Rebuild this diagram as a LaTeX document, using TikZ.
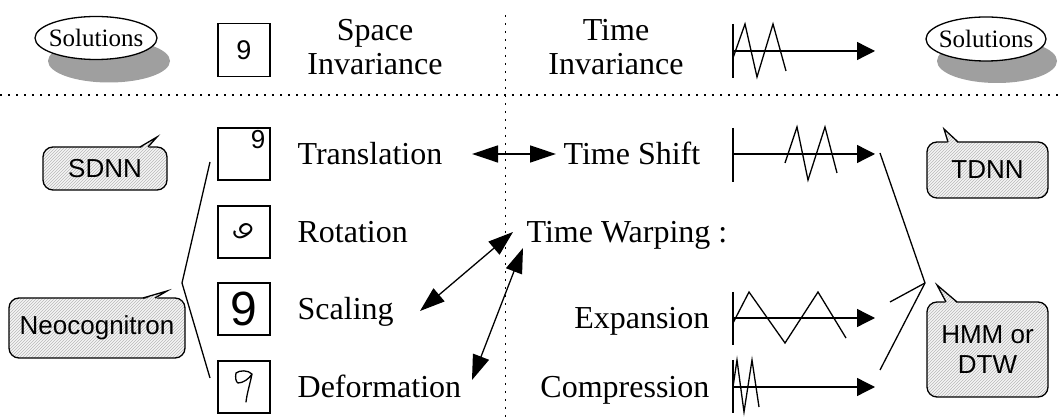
\documentclass[tikz,border=0pt]{standalone}
\usepackage{fontspec}
\setmainfont{Liberation Serif}
\newfontfamily\sansf{Liberation Sans}
\usetikzlibrary{arrows.meta,patterns,shapes.geometric}
\begin{document}
\begin{tikzpicture}[x=1pt,y=-1pt,line width=1.3pt,
  lbl/.style={font=\fontsize{32}{32}\selectfont,inner sep=0pt},
  soltext/.style={inner sep=0pt,font=\fontsize{25}{25}\selectfont},
  digbox/.style={draw,minimum width=52pt,minimum height=52pt,inner sep=0pt,line width=1.2pt},
  hatch/.style={preaction={fill=gray!8},pattern=north east lines,pattern color=gray!55},
  callbox/.style={hatch,draw,rounded corners=10pt,inner sep=0pt,font=\sansf\fontsize{26}{30}\selectfont,align=center},
  dots/.style={line width=1.7pt,dash pattern=on 1.7pt off 6.3pt},
  sigtip/.style={-{Triangle[length=18pt,width=18pt]}},
  dbltip/.style={{Triangle[length=26pt,width=17pt]}-{Triangle[length=26pt,width=17pt]}},
  wrptip/.style={{Triangle[length=25pt,width=17pt]}-{Triangle[length=25pt,width=17pt]}},
  sig/.style={line width=1.3pt,line join=miter}
]
\useasboundingbox (0,0) rectangle (1058,419);

% dotted separators
\draw[dots] (0,95) -- (1058,95);
\draw[dots] (505.5,15) -- (505.5,419);

% top row
\fill[gray!75] (109,61) ellipse [x radius=61pt,y radius=21.5pt];
\draw[fill=white] (96,38) ellipse [x radius=61pt,y radius=21.5pt];
\node[soltext] (solL) at (96,38) {Solutions};
\fill[gray!75] (997,61) ellipse [x radius=60pt,y radius=22pt];
\draw[fill=white] (986,39) ellipse [x radius=60pt,y radius=22pt];
\node[soltext] (solR) at (986,39) {Solutions};
\node[digbox,minimum height=53pt] (top9) at (244,50) {\sansf\fontsize{27}{27}\selectfont 9};
\node[lbl,anchor=base] (space) at (375,41) {Space};
\node[lbl,anchor=base] (spinv) at (375,75) {Invariance};
\node[lbl,anchor=base] (time) at (616,41) {Time};
\node[lbl,anchor=base] (tminv) at (616,75) {Invariance};
\draw[sig] (733,24) -- (733,78);
\draw[sig] (733,58) -- (745,24) -- (757,77) -- (773,24) -- (786,71);
\draw[sig,sigtip] (733,51) -- (875,51);

% digit boxes
\node[digbox] (b1) at (244,154) {};
\node[font=\sansf\fontsize{26}{26}\selectfont,inner sep=0pt] (d1) at (258,140) {9};
\node[digbox] (b2) at (244,232) {};
\node[font=\sansf\itshape\fontsize{27}{27}\selectfont,inner sep=0pt,rotate=-45] (d2) at (243,231) {9};
\node[digbox] (b3) at (244,309) {};
\node[font=\sansf\fontsize{48}{48}\selectfont,inner sep=0pt] (d3) at (244,309) {9};
\node[digbox] (b4) at (244,387) {};
\draw[line width=1.3pt,line join=round,line cap=round]
  (252,374) .. controls (248,370) and (240,370) .. (236,373)
  .. controls (235,378) and (236,382) .. (238,383)
  .. controls (243,383) and (249,379) .. (252,374)
  .. controls (250,384) and (247,393) .. (246,402);

% left labels
\node[lbl,anchor=base west] (trans) at (297,165) {Translation};
\node[lbl,anchor=base west] (rot) at (297,243) {Rotation};
\node[lbl,anchor=base west] (scal) at (297,320) {Scaling};
\node[lbl,anchor=base west] (deform) at (297,398) {Deformation};

% right labels
\node[lbl,anchor=base west] (tshift) at (563,165) {Time Shift};
\node[lbl,anchor=base west] (twarp) at (526,243) {Time Warping :};
\node[lbl,anchor=base east] (expan) at (710,329) {Expansion};
\node[lbl,anchor=base east] (compr) at (710,398) {Compression};

% arrows
\coordinate (ta) at (472,154);
\coordinate (tb) at (556,154);
\draw[dbltip] (ta) -- (tb);
\coordinate (w1a) at (513,232);
\coordinate (w1b) at (420,311);
\coordinate (w2a) at (523,248);
\coordinate (w2b) at (472,380);
\draw[wrptip] (w1a) -- (w1b);
\draw[wrptip] (w2a) -- (w2b);

% signals
\draw[sig] (733,128) -- (733,182);
\draw[sig] (785,163) -- (797,127) -- (808,180) -- (825,127) -- (837,173);
\draw[sig,sigtip] (733,154) -- (875,154);
\draw[sig] (733,292) -- (733,345);
\draw[sig] (733,323) -- (749,292) -- (785,343) -- (818,292) -- (846,338);
\draw[sig,sigtip] (733,318) -- (875,318);
\draw[sig] (733,360) -- (733,413);
\draw[sig] (733,387) -- (737,360) -- (744,412) -- (752,360) -- (759,407);
\draw[sig,sigtip] (733,387) -- (875,387);

% brackets
\coordinate (bl1) at (210,162);
\coordinate (bl2) at (182,283);
\coordinate (bl3) at (210,378);
\draw (bl1) -- (bl2) -- (bl3);
\coordinate (br1) at (880,153);
\coordinate (br2) at (890,302);
\coordinate (br3) at (880,370);
\coordinate (brj) at (925,283);
\draw (br1) -- (brj);
\draw (br2) -- (brj);
\draw (br3) -- (brj);

% callouts
\node[callbox,minimum width=124pt,minimum height=43pt] (sdnn) at (105,168.5) {SDNN};
\fill[hatch] (140,148.6) -- (157,137) -- (148,148.6) -- cycle;
\draw[line join=miter] (140,147) -- (157,137) -- (148,147);

\node[callbox,minimum width=176pt,minimum height=60pt] (neo) at (97,328) {Neocognitron};
\fill[hatch] (143,299.6) -- (167,291) -- (155,299.6) -- cycle;
\draw[line join=miter] (143,298) -- (167,291) -- (155,298);

\node[callbox,minimum width=121pt,minimum height=56pt] (tdnn) at (987.5,170) {TDNN};
\fill[hatch] (948,143.6) -- (944,129) -- (958,143.6) -- cycle;
\draw[line join=miter] (948,142) -- (944,129) -- (958,142);

\node[callbox,minimum width=121pt,minimum height=95pt] (hmm) at (987.5,349.5) {HMM or\\DTW};
\fill[hatch] (946,303.6) -- (937,285) -- (957,303.6) -- cycle;
\draw[line join=miter] (946,302) -- (937,285) -- (957,302);
\end{tikzpicture}
\end{document}
